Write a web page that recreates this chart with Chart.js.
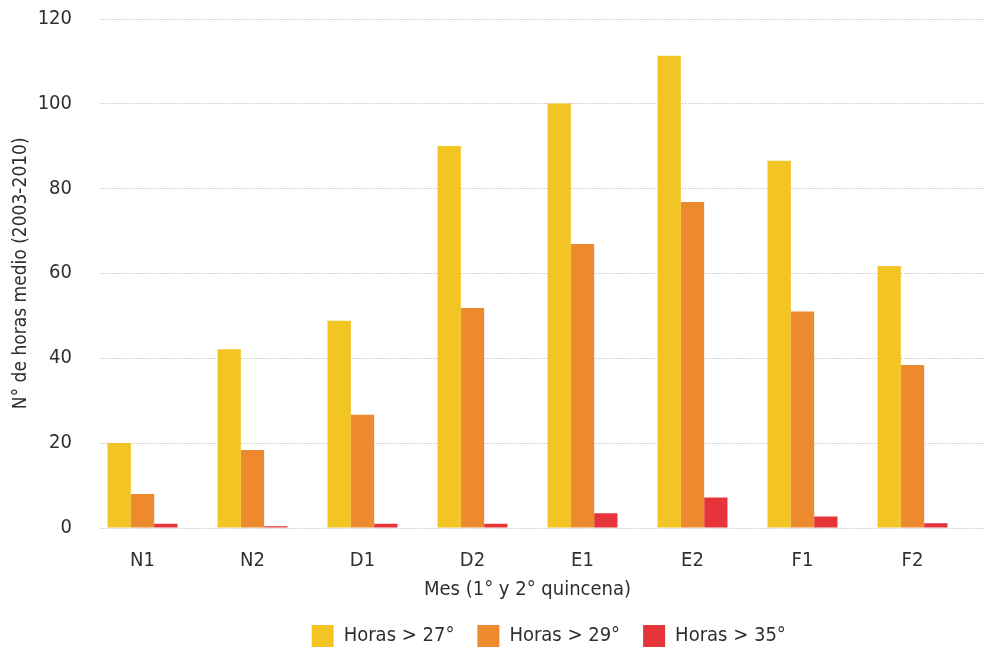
<!DOCTYPE html>
<html>
<head>
<meta charset="utf-8">
<script src="https://cdn.jsdelivr.net/npm/chart.js@4.4.1/dist/chart.umd.min.js"></script>
<style>
  html, body { margin: 0; background: #fff; }
  #wrap { width: 984px; height: 648px; }
</style>
</head>
<body>
<div id="wrap"><canvas id="chart"></canvas></div>
<script>
/* data */
const quincenas = ['N1', 'N2', 'D1', 'D2', 'E1', 'E2', 'F1', 'F2'];
const horas27   = [20, 42.1, 48.8, 90, 100, 111.2, 86.5, 61.7];
const horas29   = [8, 18.4, 26.7, 51.8, 66.9, 76.8, 51, 38.4];
const horas35   = [1, 0.4, 1, 1, 3.5, 7.2, 2.7, 1.1];
const yTicks    = [0, 20, 40, 60, 80, 100, 120];

/* condensed face: "condensed" goes into the canvas font shorthand */
const FAMILY = '"DejaVu Sans", sans-serif';
const font = size => ({ family: FAMILY, size, weight: 'condensed' });
const INK  = '#2f2f2f';

/* dotted grid running past the plot, like the original */
const dottedGrid = {
  id: 'dottedGrid',
  beforeDatasetsDraw(chart) {
    const { ctx, scales: { y } } = chart;
    ctx.save();
    ctx.strokeStyle = '#c4c4c4';
    ctx.lineWidth = 1.2;
    ctx.setLineDash([1.5, 1.5]);
    y.ticks.forEach(t => {
      const py = Math.round(y.getPixelForValue(t.value)) + 0.5;
      ctx.beginPath();
      ctx.moveTo(100, py);
      ctx.lineTo(chart.width, py);
      ctx.stroke();
    });
    ctx.restore();
  }
};

/* legend in the original sits centred under the plot, not the canvas */
const legendShift = {
  id: 'legendShift',
  beforeDraw(chart) {
    const lg = chart.legend;
    if (!lg || lg._shifted === lg.top + ':' + lg.width) return;
    lg.left += 65;
    lg.right += 65;
    lg._shifted = lg.top + ':' + lg.width;
  }
};

const ds = (label, data, color) => ({
  label, data,
  backgroundColor: color,
  borderWidth: 0,
  barPercentage: 1,
  categoryPercentage: 0.636
});

new Chart(document.getElementById('chart'), {
  type: 'bar',
  data: {
    labels: quincenas,
    datasets: [
      ds('Horas > 27°', horas27, '#f2c424'),
      ds('Horas > 29°', horas29, '#ee8a2e'),
      ds('Horas > 35°', horas35, '#e5353b')
    ]
  },
  plugins: [dottedGrid, legendShift],
  options: {
    responsive: true,
    maintainAspectRatio: false,
    animation: false,
    layout: { padding: { left: 0, right: 16.5, top: 0, bottom: -9 } },
    plugins: {
      legend: {
        position: 'bottom',
        labels: {
          color: INK,
          font: font(20),
          boxWidth: 22,
          boxHeight: 22,
          padding: 23
        }
      },
      tooltip: { enabled: false }
    },
    scales: {
      x: {
        grid: { display: false, drawTicks: false },
        border: { display: false },
        ticks: { color: INK, font: font(20), padding: 21 },
        title: {
          display: true,
          text: 'Mes (1° y 2° quincena)',
          color: INK,
          font: font(20),
          padding: { top: -16, bottom: 0 }
        }
      },
      y: {
        min: 0,
        max: 120,
        afterBuildTicks: s => { s.ticks = yTicks.map(v => ({ value: v })); },
        afterFit: s => { s.width = 87.5; },
        grid: { display: true, drawOnChartArea: false, drawTicks: true, tickLength: 9, tickColor: 'rgba(0,0,0,0)' },
        border: { display: false },
        ticks: { color: INK, font: font(20), padding: 6.5 },
        title: {
          display: true,
          text: 'N° de horas medio (2003-2010)',
          color: INK,
          font: font(19),
          padding: { top: 10, bottom: 0 }
        }
      }
    }
  }
});
</script>
</body>
</html>
